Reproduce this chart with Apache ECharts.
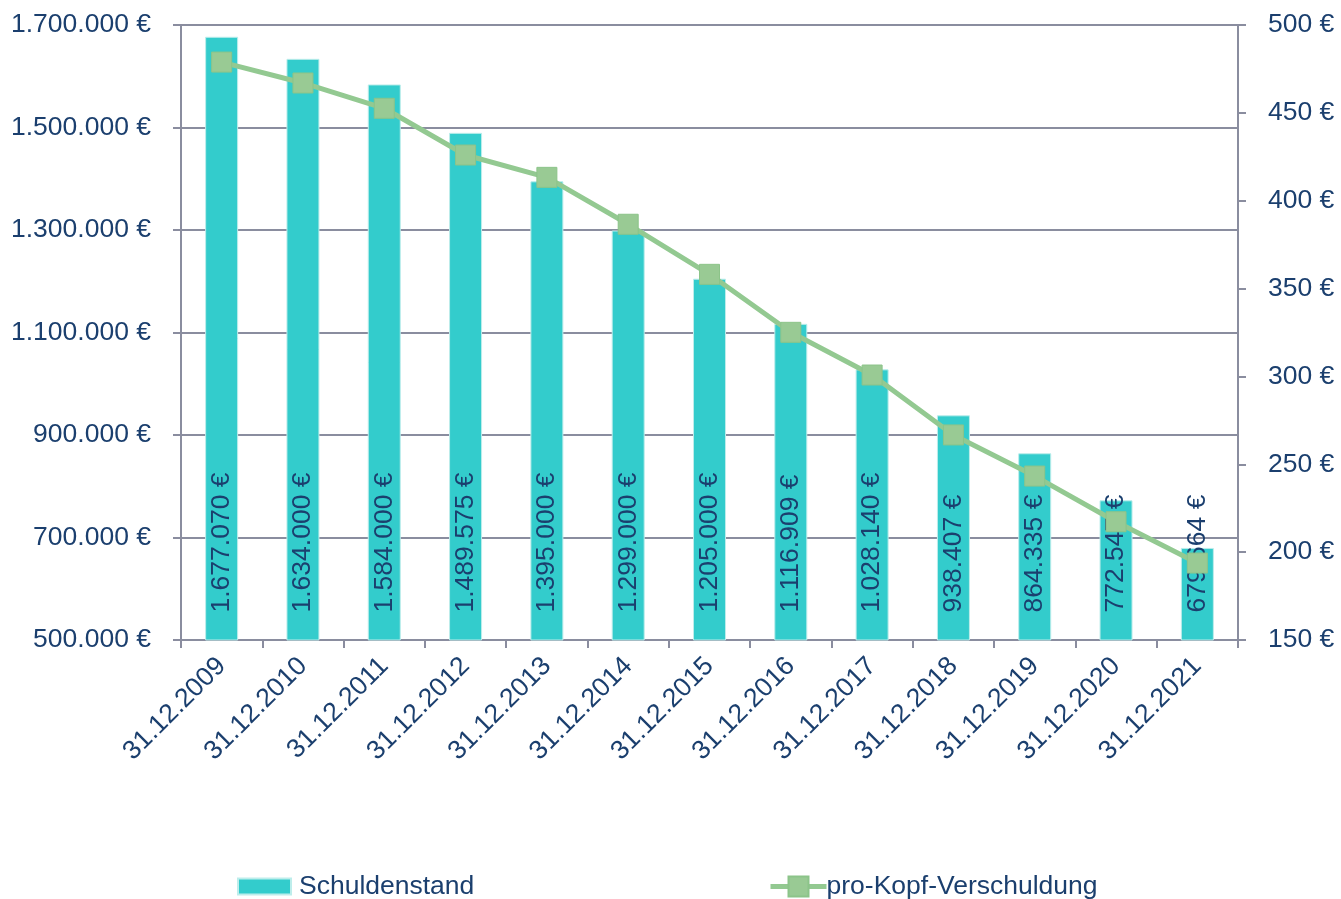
<!DOCTYPE html>
<html>
<head>
<meta charset="utf-8">
<script src="https://cdn.jsdelivr.net/npm/echarts@6/dist/echarts.min.js"></script>
<style>
  html, body { margin: 0; padding: 0; background: #fff; }
  #main { width: 1341px; height: 899px; }
</style>
</head>
<body>
<div id="main"></div>
<script>
// Daten
var kategorien = ['31.12.2009','31.12.2010','31.12.2011','31.12.2012','31.12.2013','31.12.2014','31.12.2015','31.12.2016','31.12.2017','31.12.2018','31.12.2019','31.12.2020','31.12.2021'];
var schuldenstand = [1677070, 1634000, 1584000, 1489575, 1395000, 1299000, 1205000, 1116909, 1028140, 938407, 864335, 772547, 679664];
var proKopf = [478.9, 467.0, 452.6, 426.0, 413.3, 386.6, 358.1, 325.1, 300.8, 266.7, 243.3, 217.3, 193.8];

var textFarbe = '#1B3F6E';
var achsenFarbe = '#8A8D9F';
var schrift = 'Liberation Sans, Arial, sans-serif';
var groesse = 26.5;

// Tausenderpunkt + Euro
function euro(v){
	var s = Math.round(v).toString();
	return s.replace(/\B(?=(\d{3})+(?!\d))/g, '.') + ' €';
}

var myChart = echarts.init(document.getElementById('main'));
var option = {
	animation: false,
	textStyle: { fontFamily: schrift },
	grid: { left: 181, right: 103, top: 25, bottom: 259 },
	legend: [
		{
			top: 873,
			left: 237,
			padding: 0,
			itemGap: 10,
			itemWidth: 53,
			itemHeight: 16,
			textStyle: { color: textFarbe, fontSize: groesse, fontFamily: schrift, padding: [0, 0, 0, 3] },
			data: [{ name: 'Schuldenstand', icon: 'rect' }]
		},
		{
			top: 873,
			left: 768,
			padding: 0,
			itemGap: 10,
			itemWidth: 56,
			itemHeight: 25,
			lineStyle: { width: 5 },
			textStyle: { color: textFarbe, fontSize: groesse, fontFamily: schrift, padding: [0, 0, 0, -5] },
			data: [{ name: 'pro-Kopf-Verschuldung' }]
		}
	],
	xAxis: {
		type: 'category',
		data: kategorien,
		axisLine: { lineStyle: { color: achsenFarbe, width: 2 } },
		axisTick: { show: true, length: 8, lineStyle: { color: achsenFarbe, width: 2 } },
		axisLabel: { color: textFarbe, fontSize: groesse, rotate: 45, margin: 22, fontFamily: schrift }
	},
	yAxis: [
		{
			type: 'value',
			min: 500000,
			max: 1700000,
			interval: 200000,
			axisLine: { show: true, lineStyle: { color: achsenFarbe, width: 2 } },
			axisTick: { show: true, length: 8, lineStyle: { color: achsenFarbe, width: 2 } },
			splitLine: { lineStyle: { color: achsenFarbe, width: 2 } },
			axisLabel: { color: textFarbe, fontSize: groesse, margin: 30, formatter: euro, fontFamily: schrift }
		},
		{
			type: 'value',
			min: 150,
			max: 500,
			interval: 50,
			position: 'right',
			axisLine: { show: true, lineStyle: { color: achsenFarbe, width: 2 } },
			axisTick: { show: true, length: 8, lineStyle: { color: achsenFarbe, width: 2 } },
			splitLine: { show: false },
			axisLabel: { color: textFarbe, fontSize: groesse, margin: 30, formatter: function(v){ return v + ' €'; }, fontFamily: schrift }
		}
	],
	series: [
		{
			name: 'Schuldenstand',
			type: 'bar',
			data: schuldenstand,
			barWidth: 33,
			itemStyle: { color: '#33CCCC', borderColor: '#BDEDEB', borderWidth: 1 },
			label: {
				show: true,
				position: 'insideBottom',
				rotate: 90,
				align: 'left',
				verticalAlign: 'middle',
				distance: 28,
				color: textFarbe,
				fontSize: groesse,
				fontFamily: schrift,
				formatter: function(p){ return euro(p.value); }
			}
		},
		{
			name: 'pro-Kopf-Verschuldung',
			type: 'line',
			yAxisIndex: 1,
			data: proKopf,
			symbol: 'rect',
			symbolSize: 20,
			lineStyle: { color: '#93C991', width: 5 },
			itemStyle: { color: '#99CA94', borderColor: '#8CC489', borderWidth: 1 }
		}
	]
};
myChart.setOption(option);
</script>
</body>
</html>
